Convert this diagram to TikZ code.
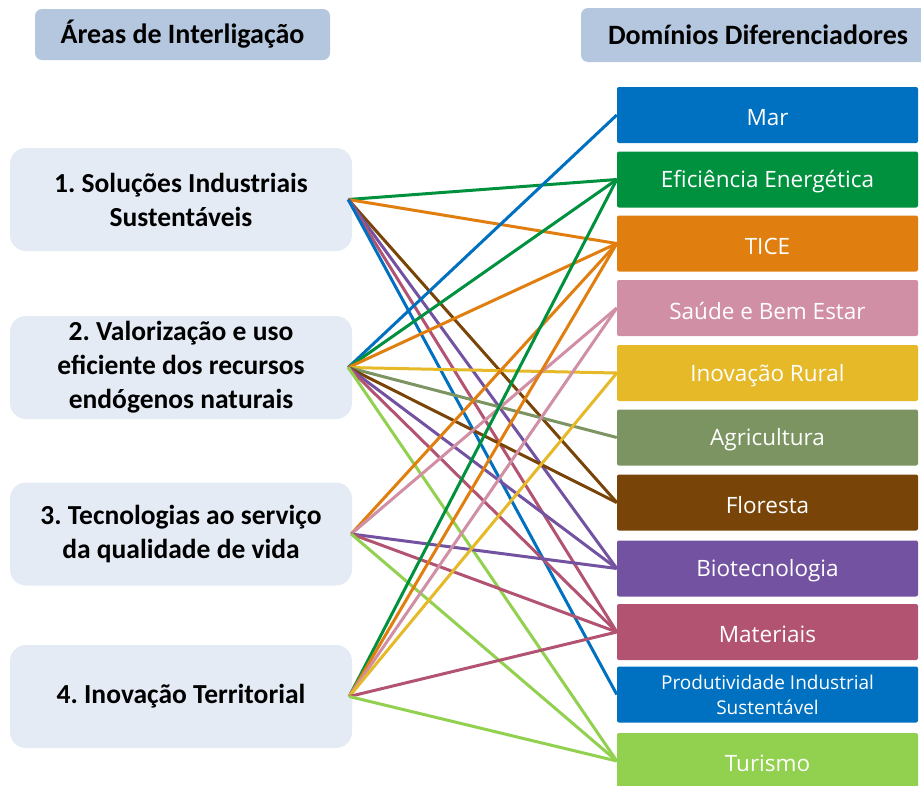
\documentclass[tikz,border=0pt]{standalone}
\usepackage{fontspec}
\setmainfont{Carlito}
\newfontfamily\rfont{Open Sans}
\frenchspacing
\definecolor{lboxc}{HTML}{E4EBF4}
\definecolor{hdr}{HTML}{B5C7DE}
\definecolor{cmar}{HTML}{0070C0}
\definecolor{cefi}{HTML}{00913F}
\definecolor{ctice}{HTML}{E07F10}
\definecolor{csaude}{HTML}{D18FA6}
\definecolor{crural}{HTML}{E5B928}
\definecolor{cagri}{HTML}{7B9461}
\definecolor{cflor}{HTML}{784408}
\definecolor{cbio}{HTML}{7353A1}
\definecolor{cmat}{HTML}{B35372}
\definecolor{cprod}{HTML}{0070C0}
\definecolor{ctur}{HTML}{92D050}
\tikzset{
 lbox/.style={fill=lboxc, rounded corners=16pt, minimum width=342pt, minimum height=103pt, align=center, font=\bfseries\fontsize{27.5}{34}\selectfont, inner sep=0pt},
 rbox/.style={rounded corners=2pt, minimum width=301pt, minimum height=56pt, inner sep=0pt},
 rtext/.style={text=white, font=\rfont\fontsize{22.5}{25}\selectfont, inner sep=0pt, align=center},
 hbox/.style={fill=hdr, rounded corners=7pt, font=\bfseries\fontsize{28}{30}\selectfont, inner sep=0pt},
 link/.style={line width=3pt},
}
\begin{document}
\begin{tikzpicture}[x=1pt,y=-1pt]
\useasboundingbox (0,0) rectangle (921,785);
% headers
\node[hbox, minimum width=295pt, minimum height=51pt] (h1) at (182.5,34.5) {Áreas de Interligação};
\node[hbox, minimum width=354pt, minimum height=54pt] (h2) at (758,35) {Domínios Diferenciadores};
% left boxes
\node[lbox] (l1) at (181,199.5) {1. Soluções Industriais\\Sustentáveis};
\node[lbox] (l2) at (181,367.5) {2. Valorização e uso\\eficiente dos recursos\\endógenos naturais};
\node[lbox] (l3) at (181,534) {3. Tecnologias ao serviço\\da qualidade de vida};
\node[lbox] (l4) at (181,696.5) {4. Inovação Territorial};
% right boxes
\foreach \n/\c/\y/\t in {mar/cmar/115/Mar, efi/cefi/179.5/Eficiência Energética, tice/ctice/243.5/TICE,
  saude/csaude/308/Saúde e Bem Estar, rural/crural/373/Inovação Rural, agri/cagri/437.5/Agricultura,
  flor/cflor/502.5/Floresta, bio/cbio/568.5/Biotecnologia, mat/cmat/632/Materiais, tur/ctur/761/Turismo}{
  \node[rbox, fill=\c] (\n) at (767.5,\y) {};
  \node[rtext] (\n-t) at ([yshift=-2.5pt]\n.center) {\t};
}
\node[rbox, fill=cprod] (prod) at (767.5,694.5) {};
\node[rtext, font=\rfont\fontsize{19}{25}\selectfont] (prod-t) at ([yshift=-0.5pt]prod.center) {Produtividade Industrial\\Sustentável};
% anchor points on the left
\coordinate (a1) at ([xshift=-4pt]l1.east);
\coordinate (a2) at ([xshift=-4pt]l2.east);
\coordinate (a3) at ([xshift=-1pt]l3.east);
\coordinate (a4) at ([xshift=-3pt]l4.east);
% links
\foreach \s/\t/\c in {a1/efi/cefi, a1/tice/ctice, a1/flor/cflor, a1/bio/cbio, a1/mat/cmat, a1/prod/cprod,
  a2/mar/cmar, a2/efi/cefi, a2/tice/ctice, a2/rural/crural, a2/agri/cagri, a2/flor/cflor, a2/bio/cbio, a2/mat/cmat, a2/tur/ctur,
  a3/tice/ctice, a3/saude/csaude, a3/bio/cbio, a3/mat/cmat, a3/tur/ctur,
  a4/efi/cefi, a4/tice/ctice, a4/saude/csaude, a4/rural/crural, a4/mat/cmat, a4/tur/ctur}
  \draw[link, draw=\c] (\s) -- (\t.west);
\end{tikzpicture}
\end{document}
